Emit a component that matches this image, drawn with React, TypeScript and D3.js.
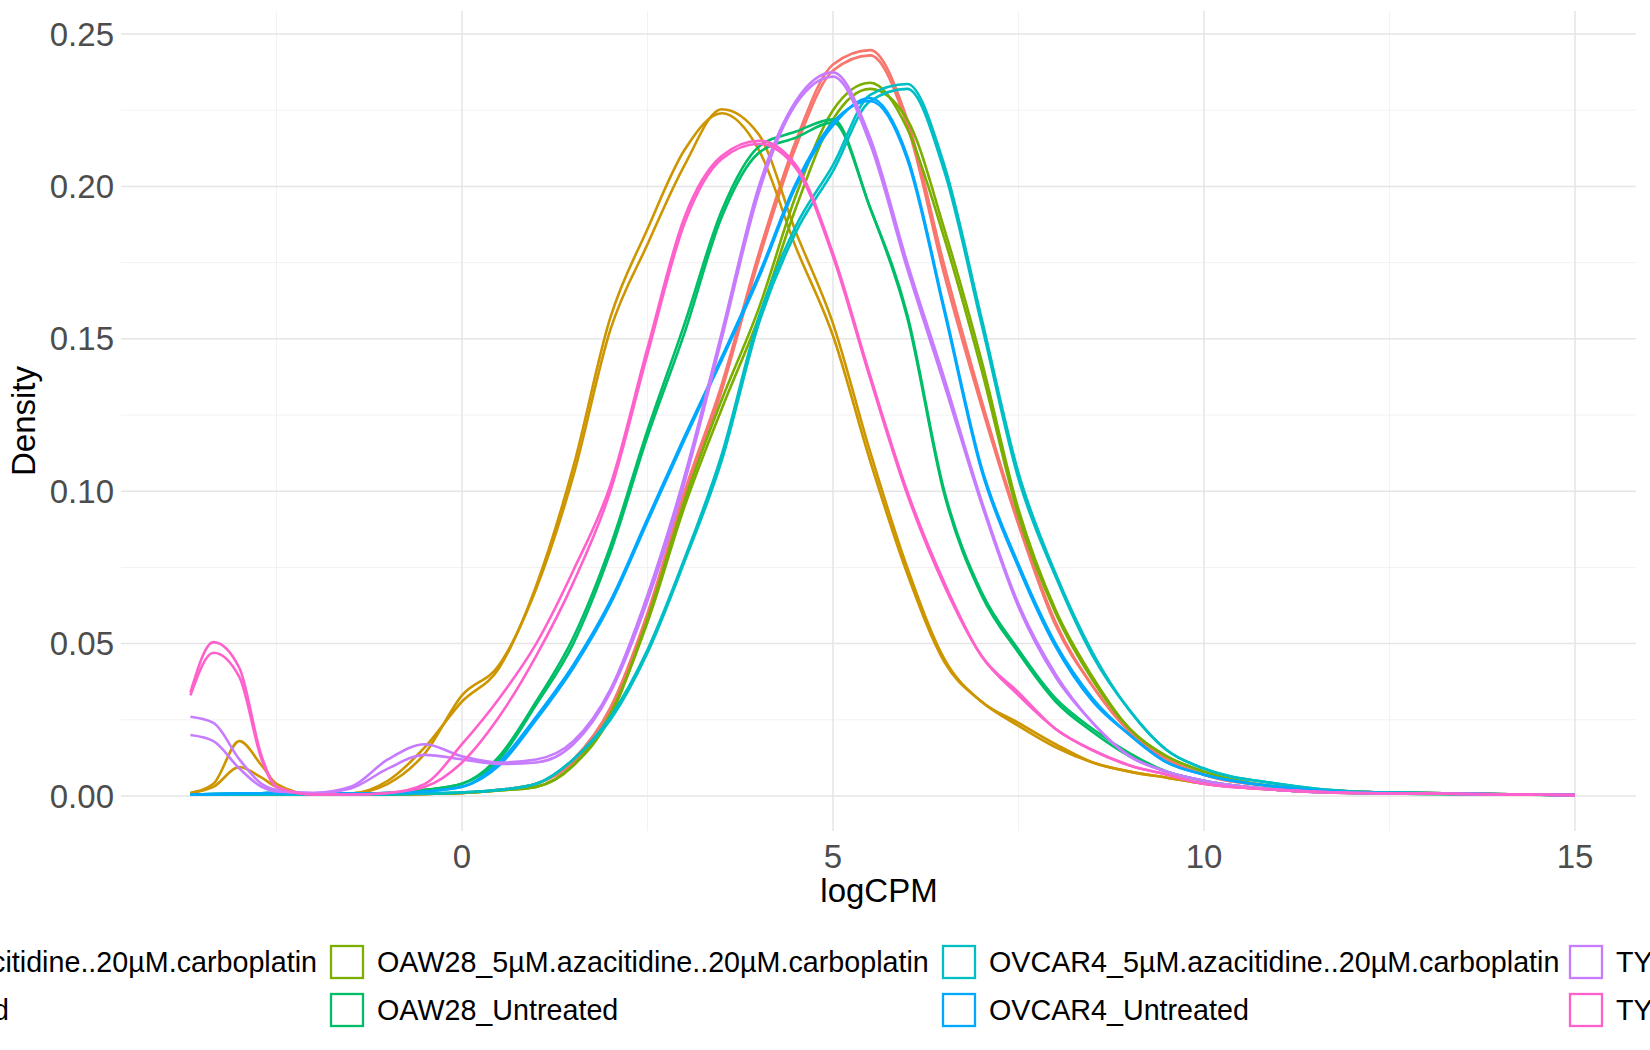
import * as d3 from "d3";

const xs = [-3.66, -3.35, -3, -2.7, -2.5, -2, -1.5, -1, -0.5, 0, 0.5, 1, 1.5, 2, 2.5, 3, 3.5, 4, 4.5, 5, 5.5, 6, 6.5, 7, 7.5, 8, 8.5, 9, 9.5, 10, 11, 12, 13, 15];

// density values per sample, aligned with xs
const a2780Aza1 = [0.0005, 0.0005, 0.0006, 0.0006, 0.0005, 0.0004, 0.0004, 0.0005, 0.0007, 0.001, 0.002, 0.004, 0.012, 0.029, 0.06, 0.1, 0.135, 0.178, 0.215, 0.24, 0.2447, 0.222, 0.174, 0.13, 0.09, 0.057, 0.036, 0.021, 0.012, 0.007, 0.003, 0.0015, 0.001, 0.0003];
const a2780Aza2 = [0.0005, 0.0005, 0.0006, 0.0006, 0.0005, 0.0004, 0.0004, 0.0005, 0.0007, 0.001, 0.002, 0.004, 0.011, 0.028, 0.058, 0.098, 0.133, 0.176, 0.213, 0.238, 0.243, 0.22, 0.171, 0.128, 0.089, 0.056, 0.036, 0.021, 0.012, 0.007, 0.003, 0.0015, 0.001, 0.0003];
const a2780Unt1 = [0.001, 0.004, 0.018, 0.01, 0.004, 0.0005, 0.0008, 0.004, 0.014, 0.033, 0.043, 0.068, 0.105, 0.153, 0.181, 0.207, 0.2253, 0.217, 0.185, 0.155, 0.113, 0.075, 0.045, 0.031, 0.024, 0.017, 0.011, 0.008, 0.006, 0.004, 0.002, 0.001, 0.0008, 0.0003];
const a2780Unt2 = [0.001, 0.003, 0.0095, 0.006, 0.003, 0.0005, 0.0008, 0.005, 0.016, 0.031, 0.042, 0.069, 0.108, 0.157, 0.186, 0.212, 0.224, 0.212, 0.18, 0.151, 0.11, 0.073, 0.044, 0.031, 0.023, 0.016, 0.011, 0.008, 0.006, 0.004, 0.002, 0.001, 0.0008, 0.0003];
const oawAza1 = [0.0004, 0.0004, 0.0005, 0.0005, 0.0005, 0.0004, 0.0004, 0.0005, 0.0007, 0.001, 0.0018, 0.003, 0.01, 0.026, 0.058, 0.097, 0.13, 0.16, 0.197, 0.225, 0.234, 0.219, 0.183, 0.14, 0.092, 0.06, 0.038, 0.022, 0.013, 0.008, 0.003, 0.0015, 0.001, 0.0003];
const oawAza2 = [0.0004, 0.0004, 0.0005, 0.0005, 0.0005, 0.0004, 0.0004, 0.0005, 0.0007, 0.001, 0.0018, 0.003, 0.01, 0.027, 0.057, 0.095, 0.127, 0.157, 0.193, 0.222, 0.232, 0.222, 0.186, 0.143, 0.094, 0.061, 0.039, 0.022, 0.013, 0.008, 0.003, 0.0015, 0.001, 0.0003];
const oawUnt1 = [0.0005, 0.0006, 0.0008, 0.0009, 0.001, 0.0008, 0.0008, 0.001, 0.002, 0.004, 0.012, 0.03, 0.05, 0.08, 0.118, 0.152, 0.19, 0.211, 0.216, 0.221, 0.193, 0.158, 0.1, 0.067, 0.048, 0.032, 0.022, 0.014, 0.008, 0.005, 0.002, 0.001, 0.0007, 0.0003];
const oawUnt2 = [0.0005, 0.0006, 0.0008, 0.0009, 0.001, 0.0008, 0.0008, 0.001, 0.002, 0.004, 0.013, 0.031, 0.052, 0.082, 0.12, 0.155, 0.192, 0.213, 0.218, 0.222, 0.193, 0.157, 0.099, 0.066, 0.047, 0.031, 0.021, 0.013, 0.008, 0.005, 0.002, 0.001, 0.0007, 0.0003];
const ovAza1 = [0.0004, 0.0004, 0.0005, 0.0005, 0.0005, 0.0004, 0.0004, 0.0005, 0.0008, 0.0012, 0.002, 0.004, 0.012, 0.025, 0.047, 0.077, 0.11, 0.155, 0.185, 0.205, 0.228, 0.232, 0.205, 0.155, 0.104, 0.072, 0.046, 0.028, 0.015, 0.009, 0.004, 0.0015, 0.001, 0.0003];
const ovAza2 = [0.0004, 0.0004, 0.0005, 0.0005, 0.0005, 0.0004, 0.0004, 0.0005, 0.0008, 0.0012, 0.002, 0.004, 0.012, 0.026, 0.048, 0.078, 0.112, 0.157, 0.187, 0.207, 0.23, 0.2336, 0.207, 0.157, 0.106, 0.073, 0.047, 0.028, 0.015, 0.009, 0.004, 0.0015, 0.001, 0.0003];
const ovUnt1 = [0.0005, 0.0006, 0.0008, 0.0009, 0.001, 0.0008, 0.0008, 0.001, 0.0015, 0.003, 0.01, 0.025, 0.042, 0.063, 0.09, 0.117, 0.143, 0.17, 0.2, 0.22, 0.229, 0.21, 0.16, 0.108, 0.076, 0.05, 0.032, 0.02, 0.011, 0.007, 0.003, 0.0012, 0.0008, 0.0003];
const ovUnt2 = [0.0005, 0.0006, 0.0008, 0.0009, 0.001, 0.0008, 0.0008, 0.001, 0.0015, 0.003, 0.011, 0.026, 0.043, 0.064, 0.091, 0.118, 0.144, 0.171, 0.201, 0.221, 0.228, 0.209, 0.159, 0.107, 0.075, 0.049, 0.031, 0.02, 0.011, 0.007, 0.003, 0.0012, 0.0008, 0.0003];
const tyAza1 = [0.026, 0.024, 0.012, 0.004, 0.002, 0.001, 0.003, 0.012, 0.017, 0.013, 0.011, 0.012, 0.018, 0.035, 0.066, 0.105, 0.152, 0.2, 0.228, 0.2374, 0.216, 0.175, 0.137, 0.097, 0.063, 0.04, 0.024, 0.013, 0.008, 0.005, 0.002, 0.001, 0.0008, 0.0003];
const tyAza2 = [0.02, 0.018, 0.009, 0.003, 0.0015, 0.001, 0.0025, 0.009, 0.0135, 0.012, 0.0105, 0.011, 0.017, 0.034, 0.064, 0.103, 0.15, 0.198, 0.227, 0.236, 0.214, 0.173, 0.135, 0.096, 0.062, 0.039, 0.024, 0.013, 0.008, 0.005, 0.002, 0.001, 0.0008, 0.0003];
const tyUnt1 = [0.034, 0.0505, 0.042, 0.013, 0.003, 0.0005, 0.0005, 0.001, 0.004, 0.017, 0.032, 0.05, 0.074, 0.102, 0.147, 0.19, 0.21, 0.215, 0.207, 0.178, 0.138, 0.1, 0.07, 0.046, 0.034, 0.022, 0.015, 0.01, 0.007, 0.004, 0.002, 0.001, 0.0008, 0.0003];
const tyUnt2 = [0.033, 0.047, 0.039, 0.012, 0.003, 0.0005, 0.0005, 0.001, 0.003, 0.011, 0.026, 0.046, 0.07, 0.1, 0.145, 0.188, 0.209, 0.214, 0.206, 0.177, 0.137, 0.099, 0.069, 0.046, 0.033, 0.022, 0.015, 0.01, 0.007, 0.004, 0.002, 0.001, 0.0008, 0.0003];

const groups = [
  "A2780_5µM.azacitidine..20µM.carboplatin",
  "A2780_Untreated",
  "OAW28_5µM.azacitidine..20µM.carboplatin",
  "OAW28_Untreated",
  "OVCAR4_5µM.azacitidine..20µM.carboplatin",
  "OVCAR4_Untreated",
  "TYKnu_5µM.azacitidine..20µM.carboplatin",
  "TYKnu_Untreated",
];
const colors = ["#F8766D", "#CD9600", "#7CAE00", "#00BE67", "#00BFC4", "#00A9FF", "#C77CFF", "#FF61CC"];
const samples: [number, number[]][] = [
  [0, a2780Aza1], [0, a2780Aza2], [1, a2780Unt1], [1, a2780Unt2],
  [2, oawAza1], [2, oawAza2], [3, oawUnt1], [3, oawUnt2],
  [4, ovAza1], [4, ovAza2], [5, ovUnt1], [5, ovUnt2],
  [6, tyAza1], [6, tyAza2], [7, tyUnt1], [7, tyUnt2],
];

const xTicks = [0, 5, 10, 15];
const xMinor = [-2.5, 2.5, 7.5, 12.5];
const yTicks = [0, 0.05, 0.1, 0.15, 0.2, 0.25];
const yMinor = [0.025, 0.075, 0.125, 0.175, 0.225];

const W = 1650, H = 1050;
const left = 121, right = 1636, top = 11, bottom = 831;
const font = "'Liberation Sans', Arial, sans-serif";

export default function App() {
  const x = d3.scaleLinear().domain([0, 15]).range([462, 1575]);
  const y = d3.scaleLinear().domain([0, 0.25]).range([796, 34]);
  const line = d3
    .line<number>()
    .x((_, i) => x(xs[i]))
    .y((d) => y(d))
    .curve(d3.curveMonotoneX);

  const colKey = [null, 330, 942, 1569];
  const rowY = [962, 1010];

  return (
    <svg width={W} height={H} style={{ position: "absolute", left: 0, top: 0, background: "#fff" }} fontFamily={font}>
      <rect width={W} height={H} fill="#fff" />
      {yMinor.map((t) => (
        <line key={"ym" + t} x1={left} x2={right} y1={y(t)} y2={y(t)} stroke="#F2F2F2" strokeWidth={1} />
      ))}
      {xMinor.map((t) => (
        <line key={"xm" + t} x1={x(t)} x2={x(t)} y1={top} y2={bottom} stroke="#F2F2F2" strokeWidth={1} />
      ))}
      {yTicks.map((t) => (
        <line key={"yg" + t} x1={left} x2={right} y1={y(t)} y2={y(t)} stroke="#E5E5E5" strokeWidth={1.5} />
      ))}
      {xTicks.map((t) => (
        <line key={"xg" + t} x1={x(t)} x2={x(t)} y1={top} y2={bottom} stroke="#E5E5E5" strokeWidth={1.5} />
      ))}
      {samples.map(([g, vals], i) => (
        <path key={i} d={line(vals) || ""} fill="none" stroke={colors[g]} strokeWidth={2.6} />
      ))}
      {yTicks.map((t) => (
        <text key={"yl" + t} x={114} y={y(t)} dy="0.35em" textAnchor="end" fontSize={33} fill="#4D4D4D">
          {t.toFixed(2)}
        </text>
      ))}
      {xTicks.map((t) => (
        <text key={"xl" + t} x={x(t)} y={868} textAnchor="middle" fontSize={33} fill="#4D4D4D">
          {t}
        </text>
      ))}
      <text x={879} y={902} textAnchor="middle" fontSize={33} fill="#000">logCPM</text>
      <text transform={`translate(35,${(top + bottom) / 2}) rotate(-90)`} textAnchor="middle" fontSize={33} fill="#000">
        Density
      </text>
      {groups.map((g, i) => {
        const col = Math.floor(i / 2);
        const row = i % 2;
        const cy = rowY[row];
        if (col === 0) {
          return (
            <text key={g} x={row === 0 ? 317 : 9} y={cy} dy="0.35em" textAnchor="end" fontSize={28.7} fill="#000">
              {g}
            </text>
          );
        }
        const kx = colKey[col] as number;
        return (
          <g key={g}>
            <rect x={kx + 1} y={cy - 16} width={32} height={32} fill="#fff" stroke={colors[i]} strokeWidth={2.3} />
            <text x={kx + 47} y={cy} dy="0.35em" fontSize={28.7} fill="#000">
              {g}
            </text>
          </g>
        );
      })}
    </svg>
  );
}
